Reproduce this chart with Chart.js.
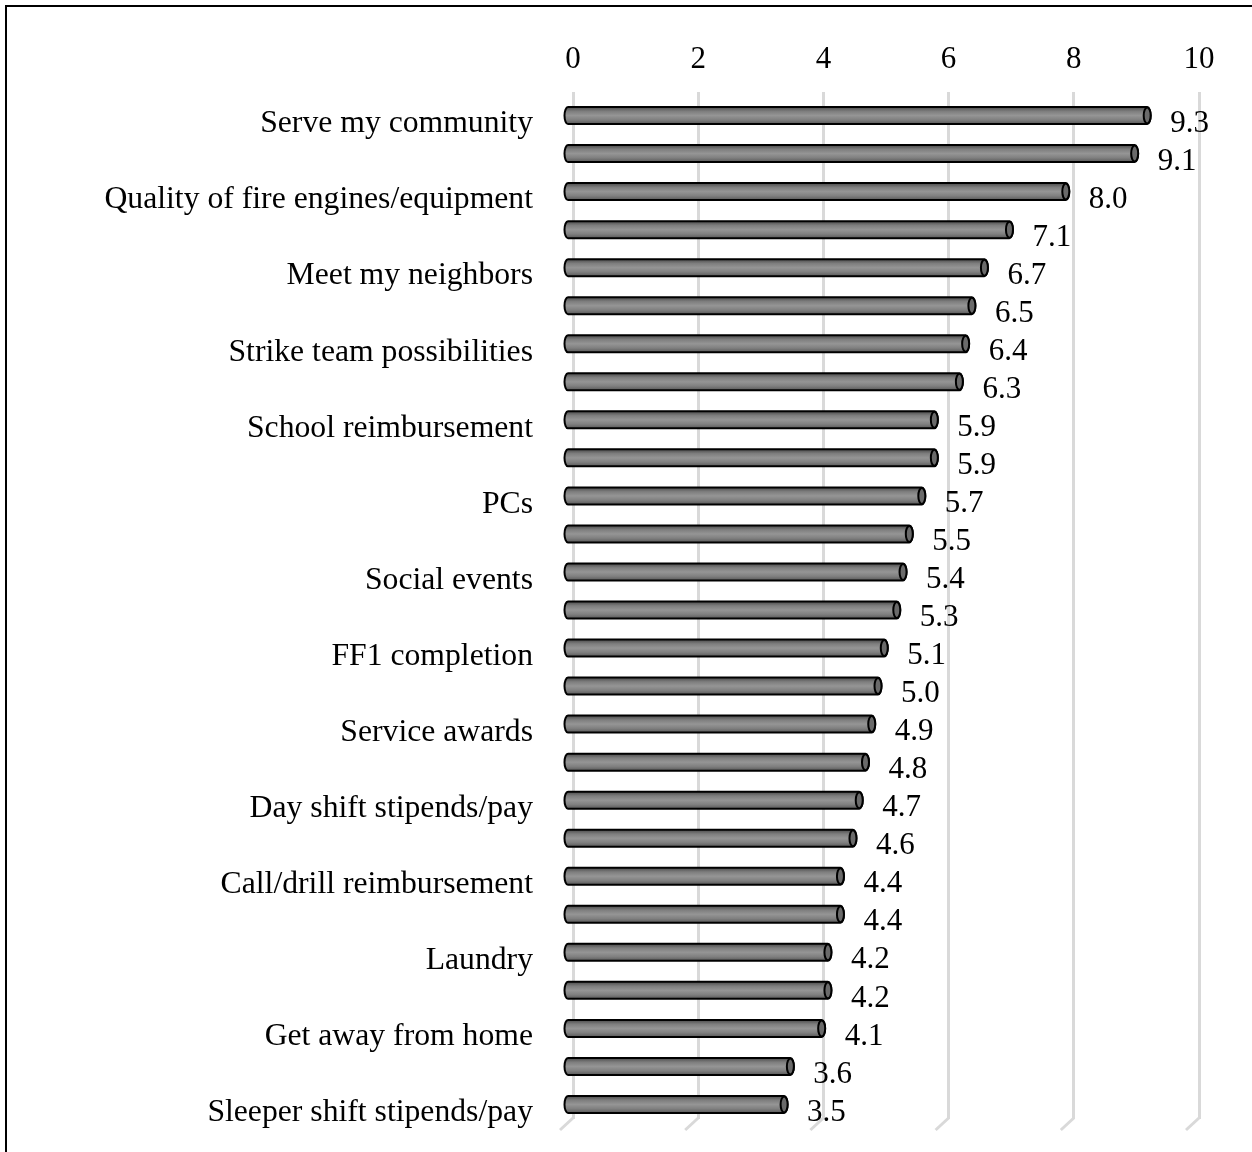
<!DOCTYPE html>
<html>
<head>
<meta charset="utf-8">
<script src="https://cdn.jsdelivr.net/npm/chart.js@4"></script>
<style>
  body { margin: 0; background: #fff; }
  #wrap { width: 1252px; height: 1152px; }
</style>
</head>
<body>
<div id="wrap"><canvas id="motivation_chart" width="1252" height="1152"></canvas></div>
<script>
// rows without a name are left blank on the axis
const categories = [
  "Serve my community", "",
  "Quality of fire engines/equipment", "",
  "Meet my neighbors", "",
  "Strike team possibilities", "",
  "School reimbursement", "",
  "PCs", "",
  "Social events", "",
  "FF1 completion", "",
  "Service awards", "",
  "Day shift stipends/pay", "",
  "Call/drill reimbursement", "",
  "Laundry", "",
  "Get away from home", "",
  "Sleeper shift stipends/pay",
];
const scores = [
  9.3, 9.1, 8.0, 7.1, 6.7, 6.5, 6.4, 6.3, 5.9, 5.9, 5.7, 5.5, 5.4, 5.3,
  5.1, 5.0, 4.9, 4.8, 4.7, 4.6, 4.4, 4.4, 4.2, 4.2, 4.1, 3.6, 3.5,
];
const xTicks = [0, 2, 4, 6, 8, 10];

const serif = "'Liberation Serif', 'Times New Roman', serif";
const gridColor = "#d9d9d9";

// 3d depth: bars sit in front of the grid wall
const depthX = -8,
  depthY = 4.5,
  halfH = 8.5,
  capRx = 3.5;

const cylinders = {
  id: "cylinders",
  afterDraw: (chart) => {
    const ctx = chart.ctx,
      xs = chart.scales.x,
      area = chart.chartArea,
      meta = chart.getDatasetMeta(0);

    ctx.save();
    // outer frame, top and left edges
    ctx.strokeStyle = "#000";
    ctx.lineWidth = 2;
    ctx.beginPath();
    ctx.moveTo(1252, 6);
    ctx.lineTo(6, 6);
    ctx.lineTo(6, 1152);
    ctx.stroke();

    // floor edges of the grid wall
    ctx.strokeStyle = gridColor;
    ctx.lineWidth = 3;
    xTicks.forEach((t) => {
      let px = xs.getPixelForValue(t);
      ctx.beginPath();
      ctx.moveTo(px, area.bottom - 1);
      ctx.lineTo(px - 13, area.bottom + 11);
      ctx.stroke();
    });

    meta.data.forEach((bar, i) => {
      let x0 = xs.getPixelForValue(0) - 5,
        x1 = bar.x + depthX,
        yc = bar.y + depthY;
      let grad = ctx.createLinearGradient(0, yc - halfH, 0, yc + halfH);
      grad.addColorStop(0, "#4a4a4a");
      grad.addColorStop(0.25, "#7e7e7e");
      grad.addColorStop(0.5, "#959595");
      grad.addColorStop(0.75, "#808080");
      grad.addColorStop(1, "#595959");

      ctx.beginPath();
      ctx.moveTo(x0, yc - halfH);
      ctx.lineTo(x1, yc - halfH);
      ctx.ellipse(x1, yc, capRx, halfH, 0, -Math.PI / 2, Math.PI / 2);
      ctx.lineTo(x0, yc + halfH);
      ctx.ellipse(x0, yc, capRx, halfH, 0, Math.PI / 2, (3 * Math.PI) / 2);
      ctx.closePath();
      ctx.fillStyle = grad;
      ctx.fill();
      ctx.strokeStyle = "#000";
      ctx.lineWidth = 2;
      ctx.stroke();

      // end face
      ctx.beginPath();
      ctx.ellipse(x1, yc, capRx, halfH - 0.5, 0, 0, Math.PI * 2);
      ctx.fillStyle = "#6a6a6a";
      ctx.fill();
      ctx.stroke();

      // value label
      ctx.fillStyle = "#000";
      ctx.font = `31px ${serif}`;
      ctx.textAlign = "left";
      ctx.textBaseline = "middle";
      ctx.fillText(scores[i].toFixed(1), bar.x + 15, yc + 8);
    });
    ctx.restore();
  },
};

new Chart(document.querySelector("#motivation_chart"), {
  type: "bar",
  data: {
    labels: categories,
    datasets: [
      {
        data: scores,
        backgroundColor: "rgba(0,0,0,0)",
        borderWidth: 0,
      },
    ],
  },
  options: {
    indexAxis: "y",
    responsive: false,
    animation: false,
    layout: { padding: { top: 0, left: 0, right: 53, bottom: 33 } },
    plugins: {
      legend: { display: false },
      tooltip: { enabled: false },
    },
    scales: {
      x: {
        position: "top",
        min: xTicks[0],
        max: xTicks[xTicks.length - 1],
        ticks: {
          stepSize: xTicks[1] - xTicks[0],
          color: "#000",
          font: { family: serif, size: 31 },
          padding: 14,
        },
        grid: { color: gridColor, lineWidth: 3, drawTicks: false },
        border: { display: false },
        afterFit: (scale) => {
          scale.height = 92;
        },
      },
      y: {
        ticks: {
          color: "#000",
          font: { family: serif, size: 31.7 },
          padding: 40,
          labelOffset: 13,
          autoSkip: false,
        },
        grid: { display: false, drawTicks: false },
        border: { display: false },
        afterFit: (scale) => {
          scale.width = 573;
          scale.paddingTop = 0;
          scale.paddingBottom = 0;
        },
      },
    },
  },
  plugins: [cylinders],
});
</script>
</body>
</html>
